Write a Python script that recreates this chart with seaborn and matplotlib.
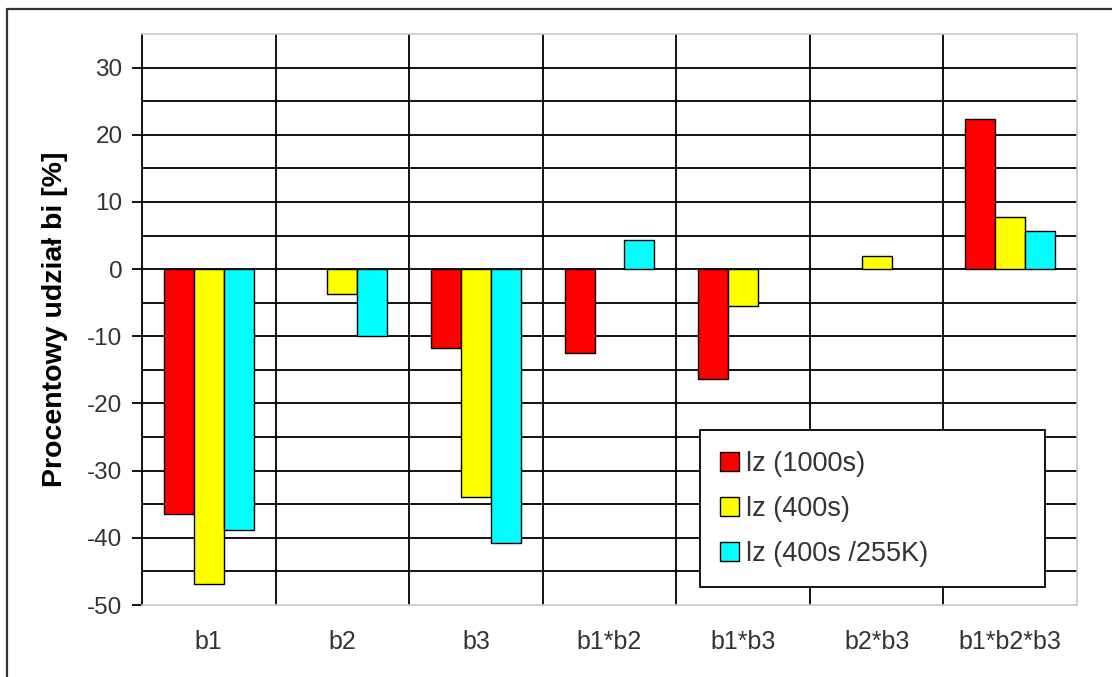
import numpy as np
import pandas as pd
import matplotlib
matplotlib.use("Agg")
import matplotlib.pyplot as plt
from matplotlib.lines import Line2D
import seaborn as sns

categories = ["b1", "b2", "b3", "b1*b2", "b1*b3", "b2*b3", "b1*b2*b3"]
series_names = ["lz (1000s)", "lz (400s)", "lz (400s /255K)"]
lz_1000s = [-36.4, np.nan, -11.8, -12.5, -16.4, np.nan, 22.4]
lz_400s = [-46.9, -3.7, -33.9, np.nan, -5.5, 1.9, 7.7]
lz_400s_255k = [-38.8, -9.9, -40.8, 4.4, np.nan, np.nan, 5.6]
y_ticks = [-50, -40, -30, -20, -10, 0, 10, 20, 30]

colors = ["#ff0000", "#ffff00", "#00ffff"]

df = pd.DataFrame({
    "kat": categories * 3,
    "seria": np.repeat(series_names, len(categories)),
    "wartosc": lz_1000s + lz_400s + lz_400s_255k,
})

sns.set_style("white")
plt.rcParams["font.family"] = ["Liberation Sans", "DejaVu Sans"]

W, H = 1112, 677
fig = plt.figure(figsize=(W / 100, H / 100), dpi=100)
ax = fig.add_axes([142 / W, 1 - 605 / H, (1077 - 142) / W, (605 - 34) / H])

sns.barplot(data=df, x="kat", y="wartosc", hue="seria", order=categories,
            hue_order=series_names, palette=colors, width=0.67,
            edgecolor="black", linewidth=1.0, saturation=1, ax=ax, zorder=3)

ax.set_ylim(-50, 35)
ax.set_xlim(-0.5, len(categories) - 0.5)
ax.set_yticks(y_ticks)
ax.set_yticklabels([str(v) for v in y_ticks])

# horizontal grid every 5, vertical lines between categories
for y in np.arange(-45, 35, 5):
    ax.axhline(y, color="black", lw=1.3, zorder=1)
for x in np.arange(0.5, len(categories) - 0.5, 1):
    ax.axvline(x, color="black", lw=1.3, zorder=1)

ax.tick_params(axis="y", direction="out", length=7, width=1.3, color="black",
               labelsize=17.5, labelcolor="#333333", pad=7, left=True)
ax.tick_params(axis="x", length=0, labelsize=18, labelcolor="#333333", pad=18)

for side in ["top", "right", "bottom"]:
    ax.spines[side].set_color("#c8c8c8")
    ax.spines[side].set_linewidth(1.2)
ax.spines["left"].set_color("black")
ax.spines["left"].set_linewidth(1.3)

ax.set_xlabel("")
ax.set_ylabel("Procentowy udział bi [%]", fontsize=20.5, fontweight="bold",
              color="black", labelpad=14)

leg = ax.legend(loc="lower left", bbox_to_anchor=((700 - 142) / 935, (605 - 587) / 571,
                                                 (1045 - 700) / 935, (587 - 432) / 571),
                mode="expand", fontsize=19.5, frameon=True, fancybox=False,
                handlelength=0.7, handleheight=0.7, handletextpad=0.25,
                labelspacing=0.7, borderpad=0.75, borderaxespad=0,
                labelcolor="#333333")
leg.get_frame().set_edgecolor("black")
leg.get_frame().set_linewidth(1.3)
leg.get_frame().set_alpha(1)
leg.set_zorder(5)

# outer frame: top and left edges of the surrounding box
frame_kw = dict(transform=fig.transFigure, color="#333333", linewidth=1.6)
fig.lines.append(Line2D([7 / W, 1.01], [1 - 9 / H, 1 - 9 / H], **frame_kw))
fig.lines.append(Line2D([7 / W, 7 / W], [-0.01, 1 - 9 / H], **frame_kw))

fig.savefig("out.png", dpi=100, facecolor="white")
